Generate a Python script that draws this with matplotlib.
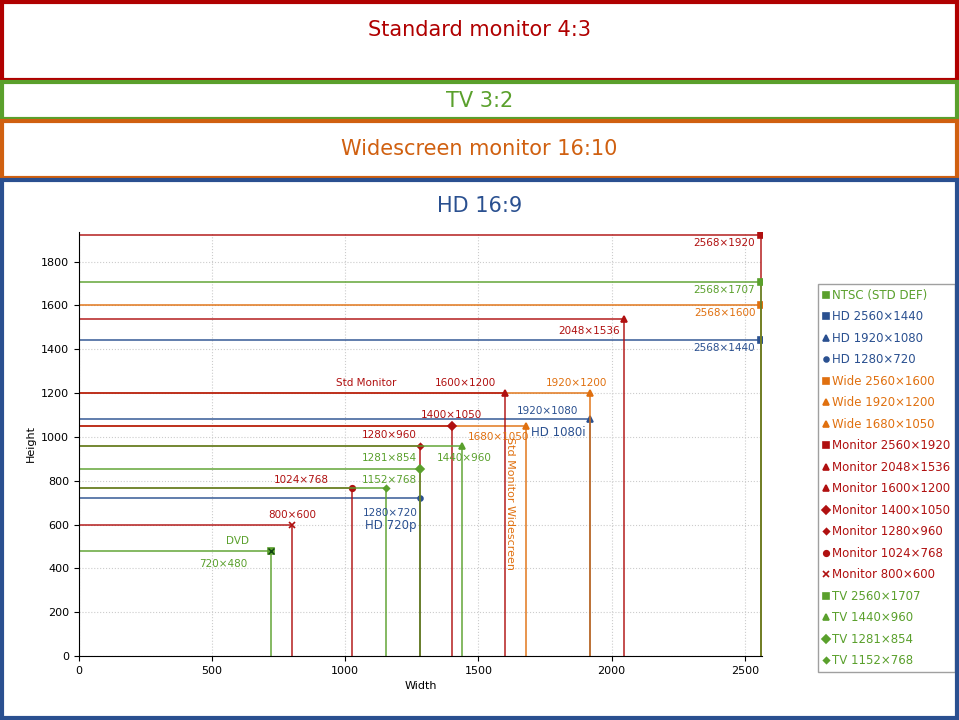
import matplotlib.pyplot as plt
from matplotlib.patches import Rectangle

RED = "#b01010"
GREEN = "#5aa02c"
ORANGE = "#e0700f"
BLUE = "#2a5090"

names = ["NTSC (STD DEF)", "HD 2560×1440", "HD 1920×1080", "HD 1280×720",
         "Wide 2560×1600", "Wide 1920×1200", "Wide 1680×1050",
         "Monitor 2560×1920", "Monitor 2048×1536", "Monitor 1600×1200",
         "Monitor 1400×1050", "Monitor 1280×960", "Monitor 1024×768",
         "Monitor 800×600", "TV 2560×1707", "TV 1440×960", "TV 1281×854",
         "TV 1152×768"]
widths = [720, 2560, 1920, 1280, 2560, 1920, 1680, 2560, 2048, 1600, 1400,
          1280, 1024, 800, 2560, 1440, 1281, 1152]
heights = [480, 1440, 1080, 720, 1600, 1200, 1050, 1920, 1536, 1200, 1050,
           960, 768, 600, 1707, 960, 854, 768]
colors = [GREEN, BLUE, BLUE, BLUE, ORANGE, ORANGE, ORANGE, RED, RED, RED,
          RED, RED, RED, RED, GREEN, GREEN, GREEN, GREEN]
markers = ["s", "s", "^", "o", "s", "^", "^", "s", "^", "^", "D", "D", "o",
           "x", "s", "^", "D", "D"]
msizes = [5, 4, 4.5, 3.5, 4, 5, 4, 4, 5, 4, 4, 3, 4, 5, 4, 4.5, 4, 3]

fig = plt.figure(figsize=(9.59, 7.2), dpi=100)
W, H = 959, 720
def box(y0, y1, c, title, tc, ty):
    fig.patches.append(Rectangle((2 / W, 1 - y1 / H), (W - 4) / W, (y1 - y0) / H,
                                 transform=fig.transFigure, fill=False,
                                 edgecolor=c, linewidth=3))
    fig.text(0.5, 1 - ty / H, title, color=tc, fontsize=15, ha="center", va="center")

box(2, 80, "#b00000", "Standard monitor 4:3", "#b00000", 30)
box(82, 119, GREEN, "TV 3:2", GREEN, 101)
box(121, 178, "#d06010", "Widescreen monitor 16:10", "#d06010", 149)
box(180, 718, BLUE, "HD 16:9", BLUE, 206)

ax = fig.add_axes([79 / W, 1 - 656 / H, (762 - 79) / W, (656 - 232) / H])
ax.set_xlim(0, 2565)
ax.set_ylim(0, 1935)
ax.grid(True, color="#cccccc", linestyle=":", linewidth=0.8)
ax.set_xticks(range(0, 2501, 500))
ax.set_yticks(range(0, 1801, 200))
ax.tick_params(labelsize=8)
ax.set_xlabel("Width", fontsize=8)
ax.set_ylabel("Height", fontsize=8)
for sp in ("top", "right"):
    ax.spines[sp].set_visible(False)

for n, w, h, c, m, s in zip(names, widths, heights, colors, markers, msizes):
    ax.plot([0, w, w], [h, h, 0], color=c, linewidth=1.3, alpha=0.8)
    ax.plot([w], [h], marker=m, color=c, markersize=s, markeredgewidth=1.2,
            linestyle="none", label=n)
    if n.startswith("NTSC"):
        ax.plot([w], [h], marker="x", color="#114411", markersize=4)

# annotations
lbl = dict(fontsize=7.5)
ax.text(2540, 1870, "2568×1920", color=RED, ha="right", **lbl)
ax.text(2540, 1655, "2568×1707", color=GREEN, ha="right", **lbl)
ax.text(2540, 1550, "2568×1600", color=ORANGE, ha="right", **lbl)
ax.text(2540, 1390, "2568×1440", color=BLUE, ha="right", **lbl)
ax.text(2030, 1470, "2048×1536", color=RED, ha="right", **lbl)
ax.text(1080, 1230, "Std Monitor", color=RED, ha="center", **lbl)
ax.text(1450, 1230, "1600×1200", color=RED, ha="center", **lbl)
ax.text(1870, 1230, "1920×1200", color=ORANGE, ha="center", **lbl)
ax.text(1400, 1085, "1400×1050", color=RED, ha="center", **lbl)
ax.text(1760, 1105, "1920×1080", color=BLUE, ha="center", **lbl)
ax.text(1800, 1005, "HD 1080i", color=BLUE, ha="center", fontsize=8.5)
ax.text(1270, 995, "1280×960", color=RED, ha="right", **lbl)
ax.text(1690, 985, "1680×1050", color=ORANGE, ha="right", **lbl)
ax.text(1550, 890, "1440×960", color=GREEN, ha="right", **lbl)
ax.text(1270, 890, "1281×854", color=GREEN, ha="right", **lbl)
ax.text(1270, 790, "1152×768", color=GREEN, ha="right", **lbl)
ax.text(940, 790, "1024×768", color=RED, ha="right", **lbl)
ax.text(1170, 640, "1280×720", color=BLUE, ha="center", **lbl)
ax.text(1170, 580, "HD 720p", color=BLUE, ha="center", fontsize=8.5)
ax.text(800, 630, "800×600", color=RED, ha="center", **lbl)
ax.text(595, 510, "DVD", color=GREEN, ha="center", **lbl)
ax.text(540, 405, "720×480", color=GREEN, ha="center", **lbl)
ax.text(1620, 1000, "Std Monitor Widescreen", color=ORANGE, rotation=-90,
        ha="center", va="top", fontsize=8)

leg = ax.legend(loc="upper left", bbox_to_anchor=(818 / 683 - 79 / 683, 1 - (284 - 232) / 424),
                fontsize=8.5, frameon=True, fancybox=False, edgecolor="#888888",
                handletextpad=0.2, handlelength=0.6, labelspacing=0.72,
                borderpad=0.4, borderaxespad=0)
for t, c in zip(leg.get_texts(), colors):
    t.set_color(c)

fig.savefig("out.png", dpi=100)
